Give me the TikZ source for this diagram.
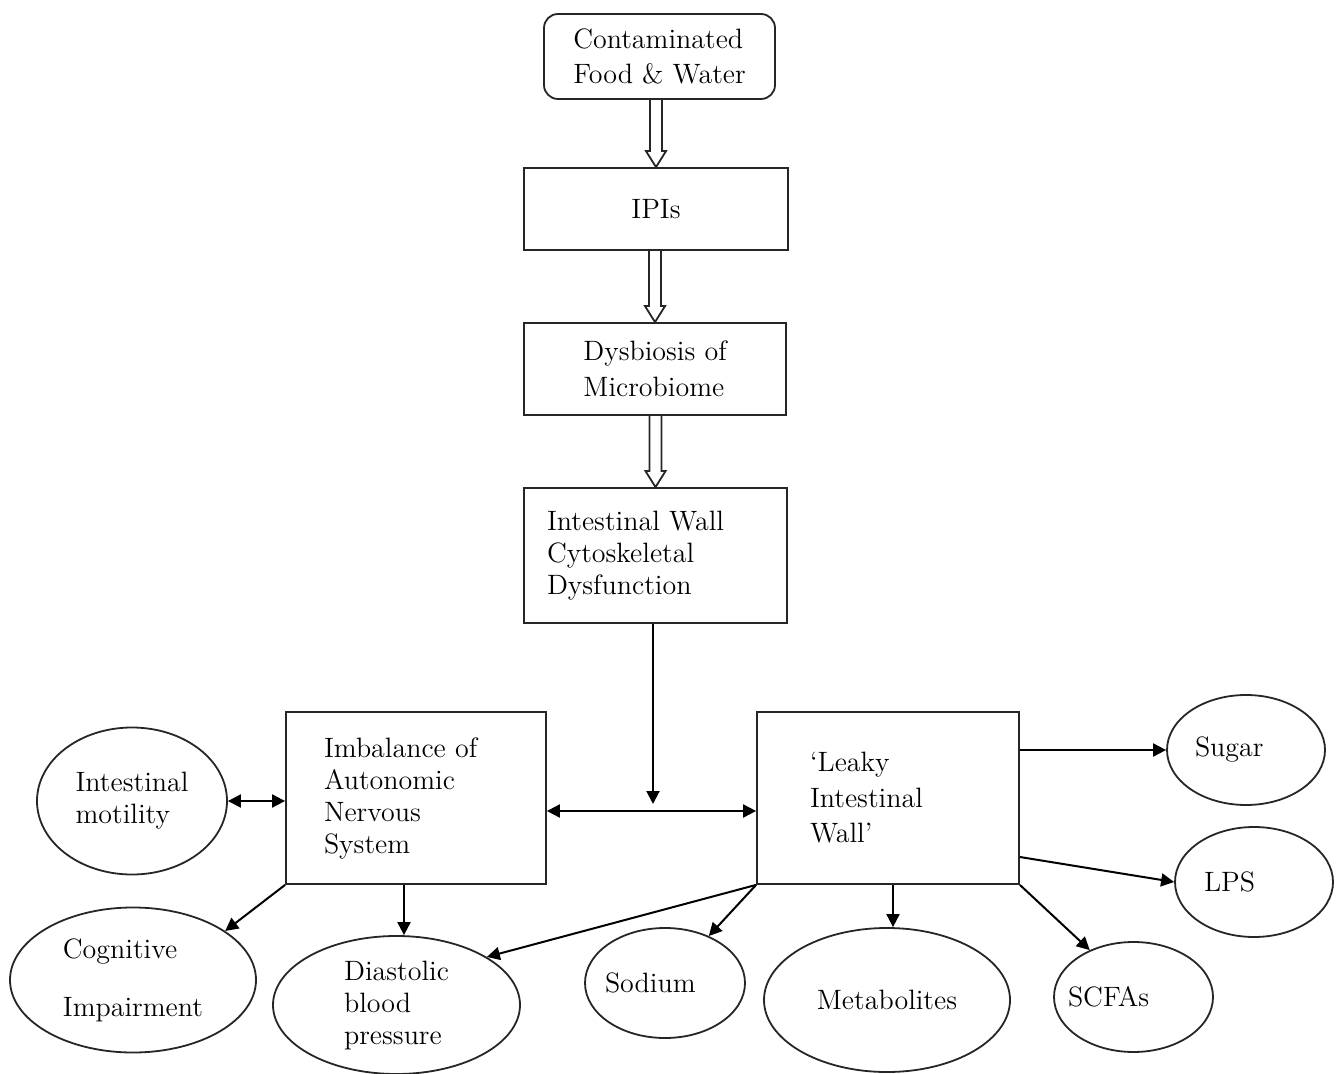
\documentclass[tikz,border=0pt]{standalone}
\usetikzlibrary{shapes.geometric,arrows.meta,calc}
\newcommand\ltxt[2]{\makebox[0pt][l]{\hspace*{-#1}#2}}
\begin{document}
\begin{tikzpicture}[x=0.5pt,y=-0.5pt,
  every node/.style={font=\fontsize{14}{16}\selectfont, text=black},
  wide/.style={font=\fontsize{14}{17.75}\selectfont},
  box/.style={draw=black!85, line width=0.9pt, rectangle, inner sep=0pt},
  ell/.style={draw=black!85, line width=0.9pt, ellipse, inner sep=0pt},
  arr/.style={line width=1pt, -{Triangle[length=6.5pt,width=6.5pt]}},
  darr/.style={line width=1pt, {Triangle[length=6.5pt,width=6.5pt]}-{Triangle[length=6.5pt,width=6.5pt]}},
  hol/.style={line width=0.9pt, draw=black!85, line join=miter}
]
\fill[white] (0,0) rectangle (1338,1074);
\useasboundingbox (0,0) rectangle (1338,1074);

% boxes
\node[box, rounded corners=7pt, minimum width=115.5pt, minimum height=42.5pt, align=left, wide] (cont) at (659.5,56.5) {Contaminated\\Food \& Water};
\node[box, minimum width=132pt, minimum height=41pt] (ipi) at (656,209) {IPIs};
\node[box, minimum width=131pt, minimum height=46pt, align=left, wide] (dys) at (655,369) {Dysbiosis of\\Microbiome};
\node[box, minimum height=67.5pt, text width=108.5pt, inner xsep=11.5pt, align=left] (wall) at (655.5,555.5) {Intestinal Wall\\Cytoskeletal\\Dysfunction};
\node[box, minimum height=86pt, text width=92pt, inner xsep=19pt, align=left] (imb) at (416,798) {Imbalance of\\Autonomic\\Nervous\\System};
\node[box, minimum height=86pt, text width=78pt, inner xsep=26.5pt, align=left, wide] (leaky) at (888,798) {`Leaky\\Intestinal\\Wall'};

% ellipses
\node[ell, minimum width=95pt, minimum height=73.5pt, align=left] (mot) at (132,801) {Intestinal\\motility};
\node[ell, minimum width=123pt, minimum height=72.5pt, align=left] (cog) at (133,980) {Cognitive\\[13pt]Impairment};
\node[ell, minimum width=123.5pt, minimum height=69pt, align=left] (dia) at (396.5,1005) {Diastolic\\blood\\pressure};
\node[ell, minimum width=80pt, minimum height=55pt] (sod) at (665,983) {\ltxt{30pt}{Sodium}};
\node[ell, minimum width=123pt, minimum height=72pt] (met) at (887,1000) {Metabolites};
\node[ell, minimum width=79.5pt, minimum height=55pt] (scfa) at (1133.5,997) {\ltxt{32.75pt}{SCFAs}};
\node[ell, minimum width=79pt, minimum height=55pt] (sug) at (1246,750) {\ltxt{25.5pt}{Sugar}};
\node[ell, minimum width=79pt, minimum height=55pt] (lps) at (1254,882) {\ltxt{25pt}{LPS}};

% hollow arrows
\coordinate (h1) at (cont.south -| ipi.north);
\coordinate (h2) at (ipi.south -| dys.north);
\coordinate (h3) at (dys.south -| wall.north);
\draw[hol] ($(h1)+(-6,0)$) -- ($(ipi.north)+(-6,-16)$) -- ($(ipi.north)+(-10,-16)$) -- (ipi.north) -- ($(ipi.north)+(10,-16)$) -- ($(ipi.north)+(6,-16)$) -- ($(h1)+(6,0)$);
\draw[hol] ($(h2)+(-6,0)$) -- ($(dys.north)+(-6,-16)$) -- ($(dys.north)+(-10,-16)$) -- (dys.north) -- ($(dys.north)+(10,-16)$) -- ($(dys.north)+(6,-16)$) -- ($(h2)+(6,0)$);
\draw[hol] ($(h3)+(-6,0)$) -- ($(wall.north)+(-6,-16)$) -- ($(wall.north)+(-10,-16)$) -- (wall.north) -- ($(wall.north)+(10,-16)$) -- ($(wall.north)+(6,-16)$) -- ($(h3)+(6,0)$);

% solid arrows
\coordinate (mid) at (653,811);
\draw[arr, shorten >=3.5pt] (wall.south -| mid) -- (mid);
\draw[darr] (imb.east |- mid) -- (leaky.west |- mid);
\draw[darr] (mot.east) -- (imb.west |- mot.east);
\draw[arr] (imb.south west) -- (cog.28);
\draw[arr] ([xshift=-6pt]imb.south) -- ([xshift=-6pt]imb.south |- dia.north);
\draw[arr] (leaky.south west) -- (dia.28);
\draw[arr] (leaky.south west) -- (sod.47);
\draw[arr] ([xshift=2.5pt]leaky.south) -- ([xshift=2.5pt]leaky.south |- met.north);
\draw[arr] (leaky.south east) -- (scfa.133);
\draw[arr] (leaky.east |- sug.west) -- (sug.west);
\draw[arr] ([yshift=-29.5pt]leaky.east) -- (lps.west);
\end{tikzpicture}
\end{document}
